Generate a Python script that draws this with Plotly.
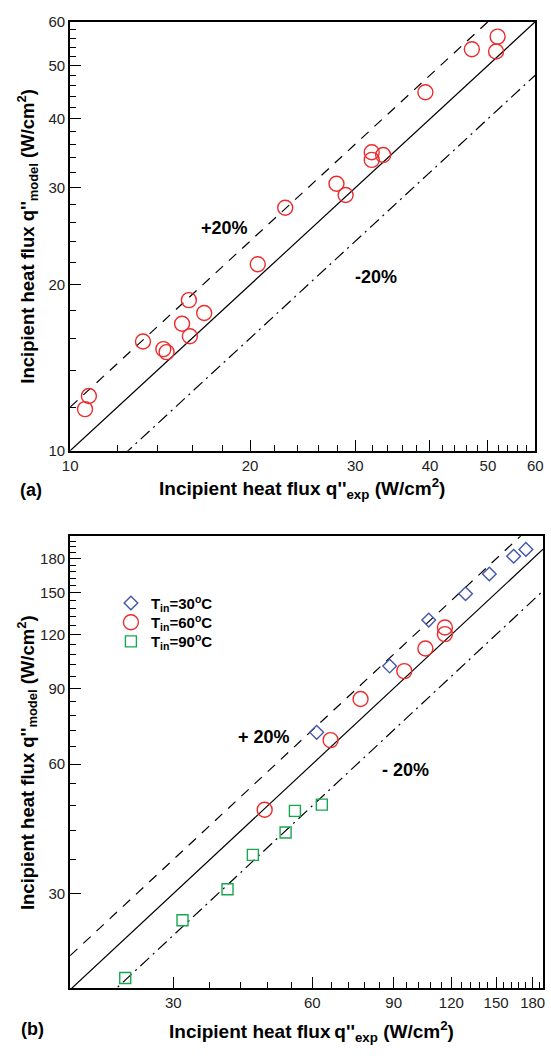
import math
import plotly.graph_objects as go

# ---------------- data ----------------
# panel (a)
a_exp = [51.9, 51.6, 47.0, 39.3, 31.96, 31.96, 33.4, 27.9, 28.9, 22.9,
         20.6, 15.8, 16.76, 15.39, 15.86, 13.24, 14.32, 14.5, 10.75, 10.59]
a_model = [56.4, 53.0, 53.5, 44.7, 34.8, 33.7, 34.4, 30.5, 29.1, 27.6,
           21.8, 18.76, 17.78, 17.0, 16.13, 15.78, 15.29, 15.1, 12.57, 11.9]

# panel (b)
b30_exp = [174.0, 163.7, 145.0, 128.8, 107.2, 88.2, 61.3]
b30_model = [189.3, 182.5, 166.0, 149.3, 129.7, 101.4, 71.1]
b60_exp = [116.2, 116.2, 105.4, 94.9, 76.3, 65.7, 47.3]
b60_model = [124.6, 120.3, 111.4, 98.7, 85.0, 68.2, 47.0]
b90_exp = [62.9, 55.0, 52.5, 44.6, 39.3, 31.4, 23.6]
b90_model = [48.3, 46.7, 41.6, 36.9, 30.7, 26.0, 19.1]

series_names = ["T<sub>in</sub>=30<sup>o</sup>C", "T<sub>in</sub>=60<sup>o</sup>C",
                "T<sub>in</sub>=90<sup>o</sup>C"]

# reference lines: ratio of model to experiment
line_ratios = [1.0, 1.2, 0.8]

a_ticks = [10, 20, 30, 40, 50, 60]
a_minor = [12, 14, 16, 18, 22, 24, 26, 28, 32, 34, 36, 38, 42, 44, 46, 48,
           52, 54, 56, 58]
b_ticks = [30, 60, 90, 120, 150, 180]
b_minor = [36, 42, 48, 54, 66, 72, 78, 84, 96, 102, 108, 114, 126, 132, 138,
           144, 156, 162, 168, 174, 186, 192, 198]

a_range = [10, 60]
b_xrange = [17.93, 189.5]
b_yrange = [18.1, 203.0]

# ---------------- figure ----------------
W, H = 551, 1056
FONT = "Liberation Sans, Arial, Helvetica, sans-serif"
RED, BLUE, GREEN = "#ee2a2a", "#4455b0", "#1aa650"
fig = go.Figure()

line_dash = ["solid", "10px,8px", "12px,5px,2px,5px"]

# panel (a) reference lines
for r, d in zip(line_ratios, line_dash):
    fig.add_trace(go.Scatter(x=a_range, y=[a_range[0] * r, a_range[1] * r],
                             mode="lines", line=dict(color="black", width=1.2, dash=d),
                             showlegend=False, hoverinfo="skip", xaxis="x", yaxis="y"))
fig.add_trace(go.Scatter(x=a_exp, y=a_model, mode="markers",
                         marker=dict(symbol="circle-open", size=15, color=RED,
                                     line=dict(width=1.4, color=RED)),
                         showlegend=False, xaxis="x", yaxis="y"))

# panel (b) reference lines
for r, d in zip(line_ratios, line_dash):
    fig.add_trace(go.Scatter(x=b_xrange, y=[b_xrange[0] * r, b_xrange[1] * r],
                             mode="lines", line=dict(color="black", width=1.2, dash=d),
                             showlegend=False, hoverinfo="skip", xaxis="x2", yaxis="y2"))

fig.add_trace(go.Scatter(x=b30_exp, y=b30_model, mode="markers", name="<b>" + series_names[0] + "</b>",
                         marker=dict(symbol="diamond-open", size=10.5, color=BLUE,
                                     line=dict(width=1.4, color=BLUE)),
                         legend="legend", xaxis="x2", yaxis="y2"))
fig.add_trace(go.Scatter(x=b60_exp, y=b60_model, mode="markers", name="<b>" + series_names[1] + "</b>",
                         marker=dict(symbol="circle-open", size=15, color=RED,
                                     line=dict(width=1.4, color=RED)),
                         legend="legend2", xaxis="x2", yaxis="y2"))
fig.add_trace(go.Scatter(x=b90_exp, y=b90_model, mode="markers", name="<b>" + series_names[2] + "</b>",
                         marker=dict(symbol="square-open", size=11, color=GREEN,
                                     line=dict(width=1.4, color=GREEN)),
                         legend="legend3", xaxis="x2", yaxis="y2"))


def axis(rng, ticks, minor, domain, anchor):
    return dict(type="log", range=[math.log10(rng[0]), math.log10(rng[1])],
                domain=domain, anchor=anchor,
                tickmode="array", tickvals=ticks, ticktext=[str(t) for t in ticks],
                ticks="inside", ticklen=11, tickwidth=1.4, tickcolor="black",
                minor=dict(tickmode="array", tickvals=minor, ticks="inside",
                           ticklen=6, tickwidth=1.4, tickcolor="black"),
                showline=True, linewidth=2, linecolor="black", mirror=True,
                showgrid=False, zeroline=False,
                tickfont=dict(family=FONT, size=15, color="#222"))


def leg(py):
    return dict(x=106 / W, y=1 - py / H, xanchor="left", yanchor="middle",
                bgcolor="rgba(0,0,0,0)", borderwidth=0,
                font=dict(family=FONT, size=15, color="black"), itemwidth=30)


fig.update_layout(
    width=W, height=H,
    margin=dict(l=0, r=0, t=0, b=0),
    paper_bgcolor="white", plot_bgcolor="white",
    font=dict(family=FONT, color="black"),
    xaxis=axis(a_range, a_ticks, a_minor, [64 / W, 543 / W], "y"),
    yaxis=axis(a_range, a_ticks, a_minor, [1 - 449 / H, 1 - 13 / H], "x"),
    xaxis2=axis(b_xrange, b_ticks, b_minor, [64 / W, 1.0], "y2"),
    yaxis2=axis(b_yrange, b_ticks, b_minor, [1 - 995 / H, 1 - 536 / H], "x2"),
    legend=leg(604), legend2=leg(623.5), legend3=leg(643),
    showlegend=True,
)


def ann(text, px, py, size, angle=0):
    fig.add_annotation(text=text, x=px / W, y=1 - py / H, xref="paper", yref="paper",
                       showarrow=False, xanchor="center", yanchor="middle",
                       textangle=angle, font=dict(family=FONT, size=size, color="black"))


ann("<b>+20%</b>", 223, 223, 18)
ann("<b>-20%</b>", 379, 272, 18)
ann("<b>+ 20%</b>", 264, 740, 18)
ann("<b>- 20%</b>", 409, 773, 18)

ann("<b>Incipient heat flux q''<sub>exp</sub> (W/cm<sup>2</sup>)</b>", 303, 487, 19)
ann("<b>Incipient heat flux\u2009q''<sub>exp</sub> (W/cm<sup>2</sup>)</b>", 313, 1039, 19)
ann("<b>Incipient heat flux q''<sub>model</sub> (W/cm<sup>2</sup>)</b>", 20, 231, 18.5, -90)
ann("<b>Incipient heat flux q''<sub>model</sub> (W/cm<sup>2</sup>)</b>", 20, 766, 18.5, -90)
ann("<b>(a)</b>", 24, 489, 18)
ann("<b>(b)</b>", 25, 1037, 18)

fig.write_html("out.html",
               config={"displayModeBar": False},
               post_script="document.body.style.margin='0';document.body.style.overflow='hidden';")
